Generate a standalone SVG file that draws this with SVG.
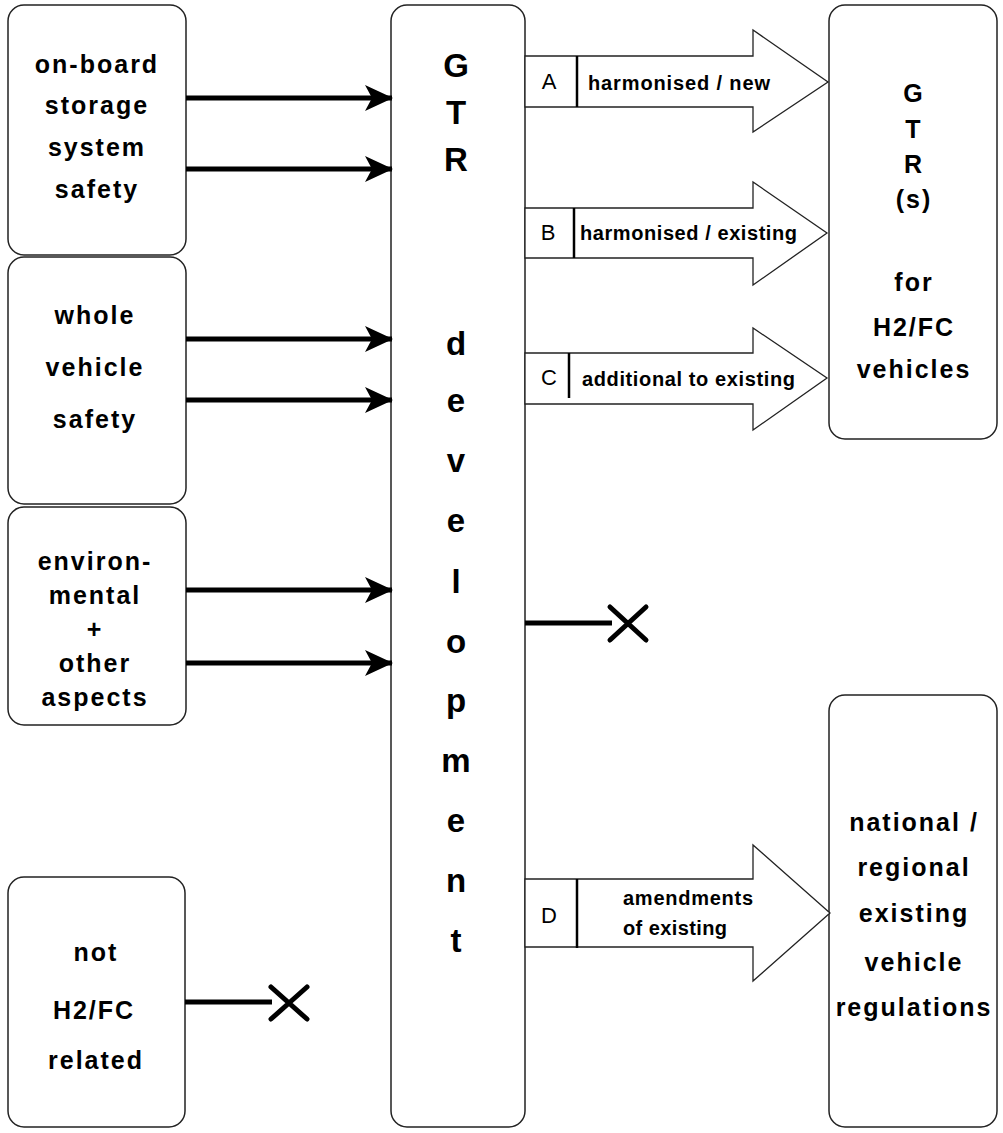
<svg xmlns="http://www.w3.org/2000/svg" width="1003" height="1133" viewBox="0 0 1003 1133">
  <style>
    .box { fill: #ffffff; stroke: #222222; stroke-width: 1.5; }
    .lbl { font-family: "Liberation Sans", Arial, sans-serif; font-size: 25px; font-weight: bold; letter-spacing: 2px; text-anchor: middle; fill: #000000; }
    .big { font-family: "Liberation Sans", Arial, sans-serif; font-size: 33px; font-weight: bold; text-anchor: middle; fill: #000000; }
    .tag { font-family: "Liberation Sans", Arial, sans-serif; font-size: 22px; text-anchor: middle; fill: #000000; }
    .small { font-family: "Liberation Sans", Arial, sans-serif; font-size: 20px; font-weight: bold; fill: #000000; }
    .feed { stroke: #000000; stroke-width: 5; fill: none; }
    .block { fill: #ffffff; stroke: #222222; stroke-width: 1.3; stroke-linejoin: miter; }
    .div { stroke: #000000; stroke-width: 2.5; }
    .cross { stroke: #000000; stroke-width: 5; fill: none; stroke-linecap: round; }
  </style>
  <defs>
    <marker id="head" viewBox="0 0 28 26" refX="27" refY="13" markerUnits="userSpaceOnUse" markerWidth="28" markerHeight="26" orient="auto">
      <path d="M0,0 L28,13 L0,26 L7,13 Z" fill="#000000"/>
    </marker>
  </defs>

  <rect width="1003" height="1133" fill="#ffffff"/>

  <!-- source boxes -->
  <g id="storage">
    <rect class="box" x="8" y="5" width="178" height="250" rx="16"/>
    <text class="lbl" x="97" y="73">on-board</text>
    <text class="lbl" x="97" y="114">storage</text>
    <text class="lbl" x="97" y="156">system</text>
    <text class="lbl" x="97" y="198">safety</text>
  </g>
  <g id="vehicle">
    <rect class="box" x="8" y="257" width="178" height="247" rx="16"/>
    <text class="lbl" x="95" y="324">whole</text>
    <text class="lbl" x="95" y="376">vehicle</text>
    <text class="lbl" x="95" y="428">safety</text>
  </g>
  <g id="environment">
    <rect class="box" x="8" y="507" width="178" height="218" rx="16"/>
    <text class="lbl" x="95" y="570">environ-</text>
    <text class="lbl" x="95" y="604">mental</text>
    <text class="lbl" x="95" y="638">+</text>
    <text class="lbl" x="95" y="672">other</text>
    <text class="lbl" x="95" y="706">aspects</text>
  </g>
  <g id="unrelated">
    <rect class="box" x="8" y="877" width="177" height="250" rx="16"/>
    <text class="lbl" x="96" y="961">not</text>
    <text class="lbl" x="94" y="1019">H2/FC</text>
    <text class="lbl" x="96" y="1069">related</text>
  </g>

  <!-- central development column -->
  <g id="development">
    <rect class="box" x="391" y="5" width="134" height="1122" rx="16"/>
    <text class="big" x="456" y="77">G</text>
    <text class="big" x="456" y="124">T</text>
    <text class="big" x="456" y="171">R</text>
    <text class="big" x="456" y="355">d</text>
    <text class="big" x="456" y="412">e</text>
    <text class="big" x="456" y="472">v</text>
    <text class="big" x="456" y="532">e</text>
    <text class="big" x="456" y="593">l</text>
    <text class="big" x="456" y="653">o</text>
    <text class="big" x="456" y="712">p</text>
    <text class="big" x="456" y="772">m</text>
    <text class="big" x="456" y="832">e</text>
    <text class="big" x="456" y="892">n</text>
    <text class="big" x="456" y="952">t</text>
  </g>

  <!-- target boxes -->
  <g id="gtr">
    <rect class="box" x="829" y="5" width="168" height="434" rx="16"/>
    <text class="lbl" x="914" y="102">G</text>
    <text class="lbl" x="914" y="138">T</text>
    <text class="lbl" x="914" y="173">R</text>
    <text class="lbl" x="914" y="208">(s)</text>
    <text class="lbl" x="914" y="291">for</text>
    <text class="lbl" x="914" y="336">H2/FC</text>
    <text class="lbl" x="914" y="378">vehicles</text>
  </g>
  <g id="national">
    <rect class="box" x="829" y="695" width="168" height="432" rx="16"/>
    <text class="lbl" x="914" y="831">national /</text>
    <text class="lbl" x="914" y="876">regional</text>
    <text class="lbl" x="914" y="922">existing</text>
    <text class="lbl" x="914" y="971">vehicle</text>
    <text class="lbl" x="914" y="1016">regulations</text>
  </g>

  <!-- connectors -->
  <g id="connectors">
    <line class="feed" x1="186" y1="98" x2="392" y2="98" marker-end="url(#head)"/>
    <line class="feed" x1="186" y1="169" x2="392" y2="169" marker-end="url(#head)"/>
    <line class="feed" x1="186" y1="339" x2="392" y2="339" marker-end="url(#head)"/>
    <line class="feed" x1="186" y1="400" x2="392" y2="400" marker-end="url(#head)"/>
    <line class="feed" x1="186" y1="590" x2="392" y2="590" marker-end="url(#head)"/>
    <line class="feed" x1="186" y1="663" x2="392" y2="663" marker-end="url(#head)"/>

    <!-- discarded paths -->
    <line class="feed" x1="525" y1="623" x2="612" y2="623"/>
    <path class="cross" d="M610,607 L646,640 M610,640 L646,607"/>
    <line class="feed" x1="185" y1="1002" x2="272" y2="1002"/>
    <path class="cross" d="M271,987 L307,1019 M271,1019 L307,987"/>

    <!-- A -->
    <polygon class="block" points="525,56 753,56 753,30 828,82 753,132 753,107 525,107"/>
    <line class="div" x1="577" y1="56" x2="577" y2="107"/>
    <text class="tag" x="549" y="89">A</text>
    <text class="small" x="588" y="90" textLength="182">harmonised / new</text>

    <!-- B -->
    <polygon class="block" points="525,208 753,208 753,182 827,233 753,285 753,258 525,258"/>
    <line class="div" x1="574" y1="208" x2="574" y2="258"/>
    <text class="tag" x="548" y="240">B</text>
    <text class="small" x="580" y="240" textLength="217">harmonised / existing</text>

    <!-- C -->
    <polygon class="block" points="525,353 753,353 753,328 827,378 753,430 753,404 525,404"/>
    <line class="div" x1="569" y1="353" x2="569" y2="398"/>
    <text class="tag" x="549" y="385">C</text>
    <text class="small" x="582" y="386" textLength="213">additional to existing</text>

    <!-- D -->
    <polygon class="block" points="525,879 753,879 753,845 830,913 753,981 753,947 525,947"/>
    <line class="div" x1="577" y1="879" x2="577" y2="948"/>
    <text class="tag" x="549" y="923">D</text>
    <text class="small" x="623" y="905" textLength="130">amendments</text>
    <text class="small" x="623" y="935" textLength="104">of existing</text>
  </g>
</svg>
